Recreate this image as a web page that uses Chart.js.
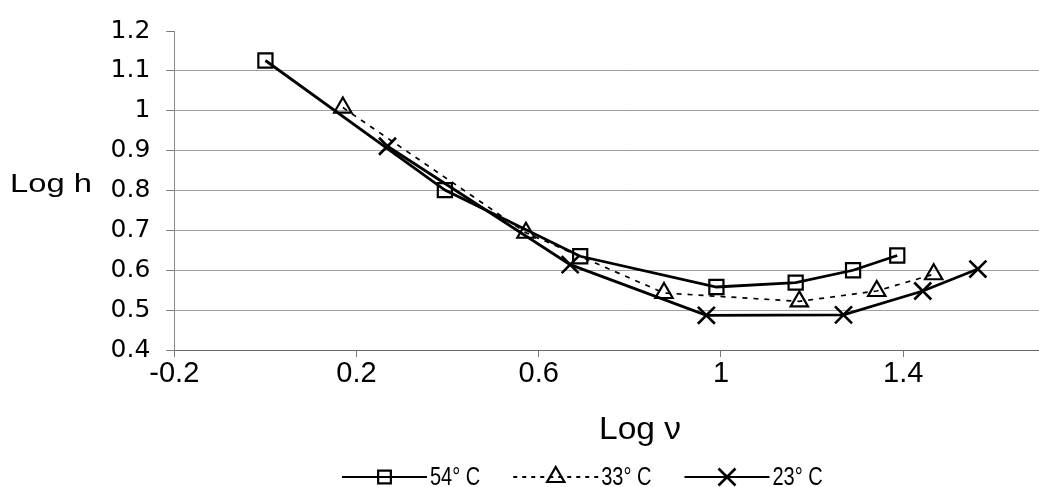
<!DOCTYPE html>
<html>
<head>
<meta charset="utf-8">
<script src="https://cdn.jsdelivr.net/npm/chart.js@4.4.1/dist/chart.umd.min.js"></script>
<style>
  html, body { margin: 0; padding: 0; background: #fff; overflow: hidden; width: 1039px; height: 487px; }
  canvas { display: block; }
</style>
</head>
<body>
<canvas id="c" width="1100" height="487"></canvas>
<script>
// ---- data ----
const seriesLabels = ['54° C', '33° C', '23° C'];
const logV54 = [0.000, 0.394, 0.691, 0.990, 1.164, 1.290, 1.387];
const logH54 = [1.126, 0.801, 0.635, 0.558, 0.569, 0.600, 0.637];
const logV33 = [0.170, 0.572, 0.875, 1.172, 1.342, 1.467];
const logH33 = [1.008, 0.694, 0.543, 0.522, 0.548, 0.590];
const logV23 = [0.268, 0.669, 0.968, 1.269, 1.443, 1.564];
const logH23 = [0.911, 0.614, 0.487, 0.488, 0.548, 0.603];
const xTickValues = [-0.2, 0.2, 0.6, 1, 1.4];
const yTickValues = [0.4, 0.5, 0.6, 0.7, 0.8, 0.9, 1, 1.1, 1.2];
const xAxisTitle = 'Log ν';
const yAxisTitle = 'Log h';

const pts = (xs, ys) => xs.map((x, i) => ({ x: x, y: ys[i] }));
const fmt = v => String(Number(v.toFixed(1)));

function drawMarker(ctx, style, x, y, r, bw) {
  ctx.save();
  ctx.setLineDash([]);
  ctx.lineWidth = bw;
  ctx.strokeStyle = '#000';
  ctx.beginPath();
  if (style === 'rect') {
    const s = r * Math.SQRT1_2;
    ctx.rect(x - s, y - s, 2 * s, 2 * s);
  } else if (style === 'triangle') {
    let a = 0;
    ctx.moveTo(x + Math.sin(a) * r, y - Math.cos(a) * r);
    a += 2 * Math.PI / 3;
    ctx.lineTo(x + Math.sin(a) * r, y - Math.cos(a) * r);
    a += 2 * Math.PI / 3;
    ctx.lineTo(x + Math.sin(a) * r, y - Math.cos(a) * r);
    ctx.closePath();
  } else if (style === 'crossRot') {
    const o = Math.cos(Math.PI / 4) * r;
    ctx.moveTo(x - o, y - o); ctx.lineTo(x + o, y + o);
    ctx.moveTo(x - o, y + o); ctx.lineTo(x + o, y - o);
  }
  ctx.stroke();
  ctx.restore();
}

// draws text squeezed/stretched horizontally by factor sx
function drawScaledText(ctx, text, x, y, sx) {
  ctx.save();
  ctx.translate(x, y);
  ctx.scale(sx, 1);
  ctx.fillText(text, 0, 0);
  ctx.restore();
  return ctx.measureText(text).width * sx;
}

const extras = {
  id: 'extras',
  afterDraw(chart) {
    const ctx = chart.ctx;
    ctx.save();
    ctx.fillStyle = '#000';
    ctx.textAlign = 'left';
    ctx.textBaseline = 'alphabetic';

    // horizontal y-axis title
    ctx.font = '25px "Liberation Sans", Arial, sans-serif';
    const tw = ctx.measureText(yAxisTitle).width;
    drawScaledText(ctx, yAxisTitle, 10, 192, 82 / tw);

    // x-axis title
    ctx.font = '32px "Liberation Sans", Arial, sans-serif';
    const xw = ctx.measureText(xAxisTitle).width;
    drawScaledText(ctx, xAxisTitle, 599, 438.5, 82 / xw);

    // legend
    ctx.font = '25px "Liberation Sans", Arial, sans-serif';
    const ly = 477;
    const glyphW = 85;
    let lx = 342;
    chart.data.datasets.forEach(ds => {
      ctx.save();
      ctx.strokeStyle = '#000';
      ctx.lineWidth = ds.legendLineWidth;
      ctx.setLineDash(ds.legendDash);
      ctx.beginPath();
      ctx.moveTo(lx, ly);
      ctx.lineTo(lx + glyphW, ly);
      ctx.stroke();
      ctx.restore();
      drawMarker(ctx, ds.pointStyle, lx + glyphW / 2, ly, ds.legendRadius, ds.pointBorderWidth);
      const w = drawScaledText(ctx, ds.label, lx + glyphW + 3, 485, 0.8);
      lx += glyphW + 3 + w + 33;
    });
    ctx.restore();
  }
};

const common = {
  borderColor: '#000',
  pointBorderColor: '#000',
  pointBackgroundColor: 'rgba(0,0,0,0)',
  backgroundColor: 'rgba(0,0,0,0)',
  tension: 0,
  fill: false,
  clip: false
};

new Chart(document.getElementById('c'), {
  type: 'line',
  data: {
    datasets: [
      Object.assign({}, common, {
        label: seriesLabels[0], data: pts(logV54, logH54),
        borderWidth: 2.8, pointStyle: 'rect', pointRadius: 10, pointBorderWidth: 2.2,
        legendLineWidth: 2, legendDash: [], legendRadius: 9
      }),
      Object.assign({}, common, {
        label: seriesLabels[1], data: pts(logV33, logH33),
        borderWidth: 1.7, borderDash: [5, 6], pointStyle: 'triangle', pointRadius: 10, pointBorderWidth: 2.2,
        legendLineWidth: 2, legendDash: [4, 5], legendRadius: 10
      }),
      Object.assign({}, common, {
        label: seriesLabels[2], data: pts(logV23, logH23),
        borderWidth: 2.8, pointStyle: 'crossRot', pointRadius: 12, pointBorderWidth: 2.6,
        legendLineWidth: 2, legendDash: [], legendRadius: 12
      })
    ]
  },
  options: {
    responsive: false,
    animation: false,
    devicePixelRatio: 1,
    layout: { padding: { top: 26.4, right: 3.7, left: 0, bottom: 0 } },
    plugins: { legend: { display: false }, tooltip: { enabled: false } },
    scales: {
      x: {
        type: 'linear',
        min: -0.2, max: 1.8,
        afterBuildTicks: s => { s.ticks = xTickValues.map(v => ({ value: v })); },
        afterFit: s => { s.height = 137; },
        ticks: {
          callback: v => fmt(v),
          color: '#000',
          padding: 0,
          maxRotation: 0,
          autoSkip: false,
          font: { family: '"Liberation Sans", Arial, sans-serif', size: 29 }
        },
        grid: { drawOnChartArea: false, tickLength: 7, tickColor: '#7a7a7a', tickWidth: 1 },
        border: { color: '#6a6a6a', width: 1 },
        title: { display: false }
      },
      y: {
        type: 'linear',
        min: 0.4, max: 1.2,
        afterBuildTicks: s => { s.ticks = yTickValues.map(v => ({ value: v })); },
        afterFit: s => { s.width = 174.3; },
        ticks: {
          callback: v => fmt(v),
          color: '#000',
          padding: 16,
          autoSkip: false,
          font: { family: '"DejaVu Sans", sans-serif', size: 25 }
        },
        grid: {
          color: c => (c.tick && (Math.abs(c.tick.value - 1.2) < 1e-6 || Math.abs(c.tick.value - 0.4) < 1e-6)) ? 'rgba(0,0,0,0)' : '#a0a0a0',
          tickColor: '#7a7a7a',
          tickLength: 8,
          lineWidth: 1
        },
        border: { color: '#8a8a8a', width: 1 }
      }
    }
  },
  plugins: [extras]
});
</script>
</body>
</html>
